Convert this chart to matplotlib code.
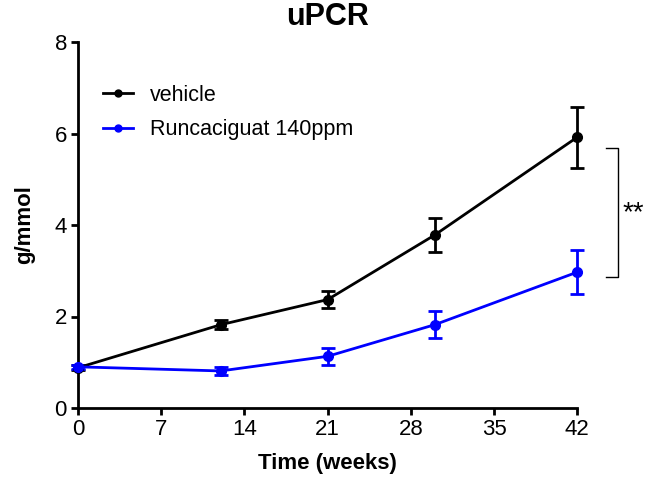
import matplotlib
matplotlib.use("Agg")
import matplotlib.pyplot as plt
from matplotlib.lines import Line2D

plt.rcParams['font.family'] = ['Liberation Sans', 'DejaVu Sans']

weeks = [0, 12, 21, 30, 42]
vehicle = [0.88, 1.82, 2.37, 3.78, 5.92]
vehicle_err = [0.05, 0.10, 0.18, 0.38, 0.67]
runca = [0.90, 0.81, 1.13, 1.82, 2.97]
runca_err = [0.05, 0.08, 0.18, 0.30, 0.48]
labels = ["vehicle", "Runcaciguat 140ppm"]
colors = ["black", "#0000ff"]

fig = plt.figure(figsize=(6.45, 4.8), dpi=100)
ax = fig.add_axes([0.121, 0.15, 0.774, 0.7625])

for y, e, c, lab in [(vehicle, vehicle_err, colors[0], labels[0]),
                     (runca, runca_err, colors[1], labels[1])]:
    ax.errorbar(weeks, y, yerr=e, color=c, marker='o', markersize=7,
                linewidth=2, elinewidth=2, capsize=5, capthick=2,
                clip_on=False, zorder=3)

ax.set_xlim(0, 42)
ax.set_ylim(0, 8)
ax.set_xticks([0, 7, 14, 21, 28, 35, 42])
ax.set_yticks([0, 2, 4, 6, 8])
for s in ['top', 'right']:
    ax.spines[s].set_visible(False)
for s in ['left', 'bottom']:
    ax.spines[s].set_linewidth(2)
ax.tick_params(width=2, length=5, labelsize=16, direction='out', pad=3)
ax.set_xlabel("Time (weeks)", fontsize=16, fontweight='bold', labelpad=9)
ax.set_ylabel("g/mmol", fontsize=16, fontweight='bold', labelpad=14)
ax.set_title("uPCR", fontsize=22, fontweight='bold', pad=12)

handles = [Line2D([0], [0], color=c, marker='o', markersize=5, linewidth=2)
           for c in colors]
ax.legend(handles, labels, loc='upper left', bbox_to_anchor=(0.015, 0.93),
          frameon=False, fontsize=15.5, handlelength=1.4, handletextpad=0.8,
          labelspacing=0.62, borderaxespad=0.4)

# significance bracket
bx = 45.4
y_top, y_bot = 5.68, 2.86
ax.plot([bx - 1.0, bx, bx, bx - 1.0], [y_top, y_top, y_bot, y_bot],
        color='black', linewidth=1, clip_on=False)
ax.text(bx + 0.4, (y_top + y_bot) / 2 - 0.02, "**", fontsize=20,
        va='center', ha='left', clip_on=False)

fig.savefig("out.png", dpi=100)
